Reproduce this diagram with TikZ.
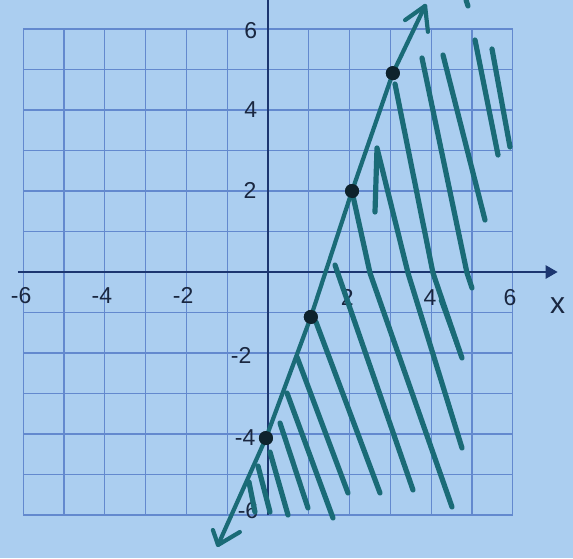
\documentclass[tikz,border=0pt]{standalone}
\usepackage{fontspec}
\setmainfont{Liberation Sans}
\usetikzlibrary{arrows.meta}
\definecolor{paper}{HTML}{ABCEF0}
\definecolor{gridc}{HTML}{6389CE}
\definecolor{axisc}{HTML}{1C3670}
\definecolor{teal}{HTML}{1A6B77}
\definecolor{dotc}{HTML}{0E222C}
\definecolor{inkc}{HTML}{1A2740}
\tikzset{
  gridline/.style={draw=gridc, line width=1.1pt},
  axisline/.style={draw=axisc, line width=2.5pt},
  lbl/.style={text=inkc, font=\fontsize{23}{23}\selectfont, inner sep=0pt},
  mainline/.style={draw=teal, line width=4.2pt, line cap=round, line join=round},
  hatch/.style={draw=teal, line width=5.2pt, line cap=round, line join=round},
  dotnode/.style={circle, fill=dotc, minimum size=14pt, inner sep=0pt},
}
\begin{document}
\begin{tikzpicture}[x=40.8pt,y=40.5pt]
\useasboundingbox (-268pt,-286pt) rectangle (305pt,272pt);
\fill[paper] (-268pt,-286pt) rectangle (305pt,272pt);
% grid
\foreach \i in {-6,...,6} {
  \draw[gridline] (\i,-6) -- (\i,6);
  \draw[gridline] (-6,\i) -- (6,\i);
}
% axes
\draw[axisline, -{Triangle[length=12pt,width=13pt]}] (-6.13,0) -- (7.1,0);
\draw[axisline] (0,-6) -- (0,6.8);
% labels
\node[lbl] (ly6) at (-0.42,5.97) {6};
\node[lbl] (ly4) at (-0.42,4.02) {4};
\node[lbl] (ly2) at (-0.44,2.02) {2};
\node[lbl] (lym2) at (-0.66,-2.05) {-2};
\node[lbl] (lym4) at (-0.56,-4.1) {-4};
\node[lbl] (lym6) at (-0.49,-5.88) {-6};
\node[lbl] (lxm6) at (-6.05,-0.59) {-6};
\node[lbl] (lxm4) at (-4.07,-0.59) {-4};
\node[lbl] (lxm2) at (-2.08,-0.59) {-2};
\node[lbl] (lx2) at (1.94,-0.62) {2};
\node[lbl] (lx4) at (3.97,-0.62) {4};
\node[lbl] (lx6) at (5.93,-0.64) {6};
\node[lbl, font=\fontsize{30}{30}\selectfont] (lxx) at (7.1,-0.84) {x};
% hatching (pixel coordinates of the sketch)
\begin{scope}[x=1pt,y=-1pt,shift={(-268pt,272pt)}]
  \draw[hatch] (335,265) -- (413,490);
  \draw[hatch] (353,196) -- (370,273) -- (452,507);
  \draw[hatch] (375,212) -- (377,148) -- (408,273) -- (462,448);
  \draw[hatch] (395,84) -- (433,273) -- (462,358);
  \draw[hatch, line width=2.8pt] (440,300) -- (459,352);
  \draw[hatch] (422,58) -- (467,273) -- (472,288);
  \draw[hatch] (443,55) -- (485,220);
  \draw[hatch] (475,40) -- (498,155);
  \draw[hatch] (492,49) -- (510,147);
  \draw[hatch] (466,0) -- (468,6);
  \draw[hatch] (316,322) -- (380,493);
  \draw[hatch] (297,357) -- (348,493);
  \draw[hatch] (287,393) -- (333,518);
  \draw[hatch] (280,423) -- (308,508);
  \draw[hatch] (270,452) -- (288,515);
  \draw[hatch] (258,466) -- (270,512);
  \draw[hatch] (249,482) -- (255,512);
\end{scope}
% the line through the plotted points
\node[dotnode] (d0) at (-0.05,-4.1) {};
\node[dotnode] (d1) at (1.05,-1.11) {};
\node[dotnode] (d2) at (2.06,2.0) {};
\node[dotnode] (d3) at (3.06,4.91) {};
\coordinate (tipL) at (-1.225,-6.74);
\coordinate (tipU) at (3.85,6.57);
\coordinate (bu1) at (3.36,6.22);
\coordinate (bu2) at (3.92,5.93);
\coordinate (bl1) at (-1.35,-6.37);
\coordinate (bl2) at (-0.69,-6.42);
\draw[mainline] (tipL) -- (d0.center) -- (d1.center) -- (d2.center) -- (d3.center) -- (tipU);
\draw[mainline] (bu1) -- (tipU) -- (bu2);
\draw[mainline] (bl1) -- (tipL) -- (bl2);
\node[dotnode] at (d0) {};
\node[dotnode] at (d1) {};
\node[dotnode] at (d2) {};
\node[dotnode] at (d3) {};
\end{tikzpicture}
\end{document}
